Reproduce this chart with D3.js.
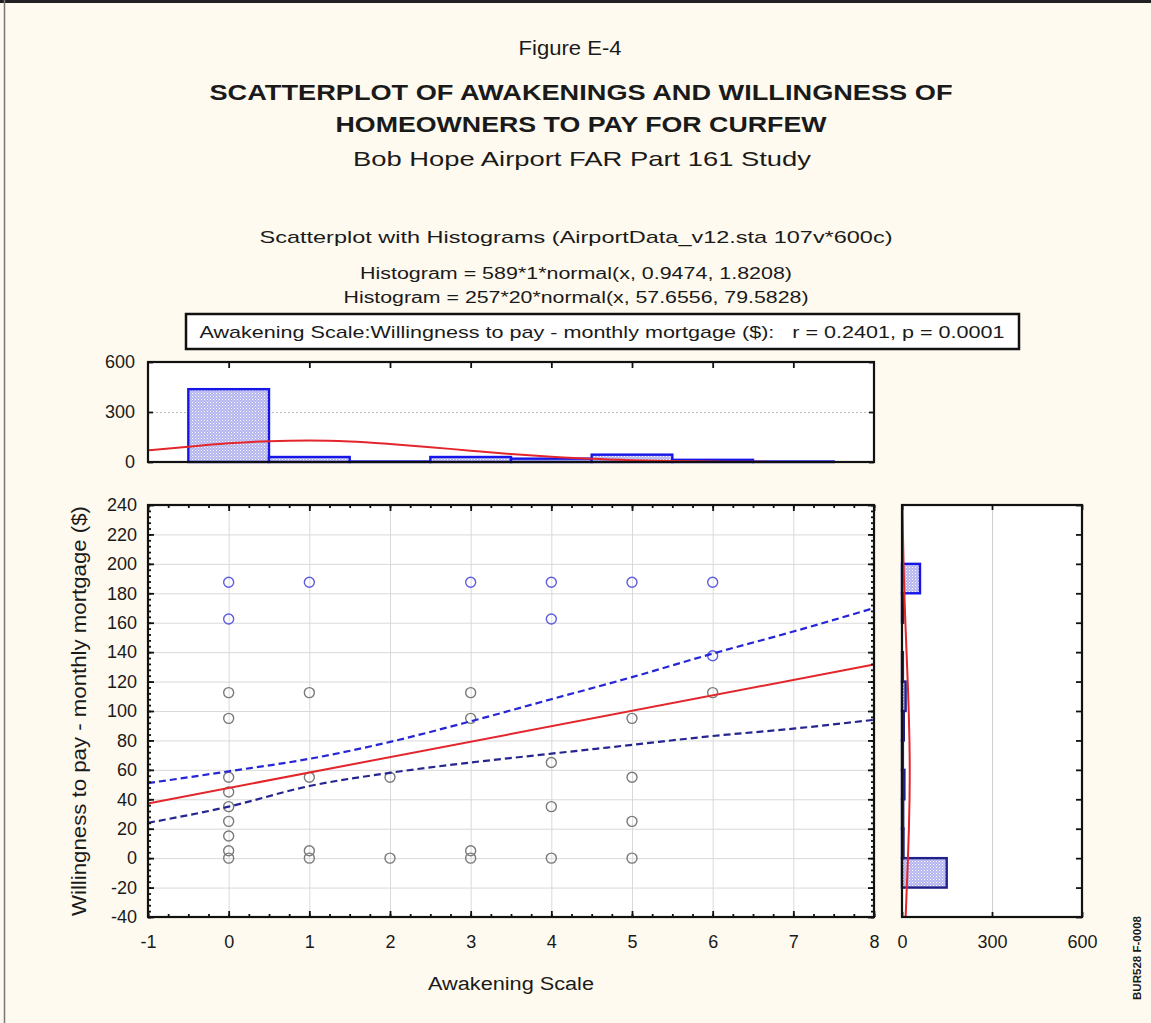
<!DOCTYPE html>
<meta charset="utf-8">
<style>
  body { margin: 0; background: #fffaef; }
  text { font-family: "Liberation Sans", Arial, sans-serif; fill: #1a1a1a; }
</style>
<script src="https://d3js.org/d3.v7.min.js"></script>
<body>
<div id="chart"></div>
<script>

// scatter points: awakening scale vs willingness to pay ($/month)
var pointX = [0, 0, 0, 0, 0, 0, 0, 0, 0, 0, 0,
              1, 1, 1, 1, 1,
              2, 2,
              3, 3, 3, 3, 3,
              4, 4, 4, 4, 4,
              5, 5, 5, 5, 5,
              6, 6, 6];
var pointY = [187.5, 162.5, 112.5, 95, 55, 45, 35, 25, 15, 5, 0,
              187.5, 112.5, 55, 5, 0,
              55, 0,
              187.5, 112.5, 95, 5, 0,
              187.5, 162.5, 65, 35, 0,
              187.5, 95, 55, 25, 0,
              187.5, 137.5, 112.5];

// regression line and 95% band
var fitX = [-1, 8];
var fitY = [37.2, 131.6];
var bandX = [-1, 0, 1, 2, 3, 4, 5, 6, 7, 8];
var bandUpper = [51, 59, 67.5, 79, 93, 108, 123, 139, 154, 170];
var bandLower = [24, 35, 49, 58, 65, 71, 77, 83, 88, 94];

// histogram of awakening scale (bins centred on integers)
var histXCenter = [0, 1, 2, 3, 4, 5, 6, 7];
var histXCount = [437, 30, 3, 30, 20, 44, 13, 3];
// fitted normal curve read at half steps
var curveXAt = [-1, -0.5, 0, 0.5, 1, 1.5, 2, 2.5, 3, 3.5, 4, 4.5, 5, 5.5, 6, 6.5, 7, 7.5, 8];
var curveXVal = [70, 92, 112, 125, 129, 123, 108, 89, 68, 48, 32, 19, 11, 6, 3, 1, 0.5, 0.2, 0];

// histogram of willingness to pay (bins of 20, lower edges)
var histYLow = [-20, 0, 20, 40, 60, 80, 100, 120, 140, 160, 180];
var histYCount = [149, 5, 4, 8, 3, 6, 12, 3, 0, 4, 60];
var curveYAt = [-40, -20, 0, 20, 40, 60, 80, 100, 120, 140, 160, 180, 200, 220, 240];
var curveYVal = [12.1, 16, 19.8, 23, 25.1, 25.8, 24.8, 22.4, 19, 15.1, 11.3, 7.9, 5.2, 3.2, 1.9];

var xTicks = [-1, 0, 1, 2, 3, 4, 5, 6, 7, 8];
var yTicks = [-40, -20, 0, 20, 40, 60, 80, 100, 120, 140, 160, 180, 200, 220, 240];
var countTicks = [0, 300, 600];

var width = 1151,
    height = 1023;

var svg = d3.select("#chart")
  .append("svg")
    .attr("width", width)
    .attr("height", height);

svg.append("rect").attr("width", width).attr("height", height).attr("fill", "#fffaef");
svg.append("rect").attr("x", 0).attr("y", 0).attr("width", width).attr("height", 3).attr("fill", "#222");
svg.append("line").attr("x1", 4.5).attr("x2", 4.5).attr("y1", 0).attr("y2", height)
  .attr("stroke", "#777").attr("stroke-width", 1.5);

var defs = svg.append("defs");
var pat = defs.append("pattern").attr("id", "stip")
  .attr("width", 3).attr("height", 3).attr("patternUnits", "userSpaceOnUse");
pat.append("rect").attr("width", 3).attr("height", 3).attr("fill", "#b4b4ee");
pat.append("rect").attr("width", 1).attr("height", 1).attr("fill", "#ffffff");
pat.append("rect").attr("x", 1.5).attr("y", 1.5).attr("width", 1).attr("height", 1).attr("fill", "#eeeeff");

function label(txt, x, y, size, w, weight) {
  return svg.append("text")
    .attr("x", x).attr("y", y)
    .attr("text-anchor", "middle")
    .style("font-size", size + "px")
    .style("font-weight", weight || "normal")
    .attr("textLength", w)
    .attr("lengthAdjust", "spacingAndGlyphs")
    .text(txt);
}

var plain = function(d) { return String(d); };

// headings
label("Figure E-4", 570, 55, 20, 103);
label("SCATTERPLOT OF AWAKENINGS AND WILLINGNESS OF", 581, 100, 22, 743, "bold");
label("HOMEOWNERS TO PAY FOR CURFEW", 581, 132, 22, 491, "bold");
label("Bob Hope Airport FAR Part 161 Study", 582, 166, 21, 458);
label("Scatterplot with Histograms (AirportData_v12.sta 107v*600c)", 576, 243, 17, 633);
label("Histogram = 589*1*normal(x, 0.9474, 1.8208)", 576, 279, 16, 432);
label("Histogram = 257*20*normal(x, 57.6556, 79.5828)", 576, 303, 16, 465);
svg.append("rect").attr("x", 186).attr("y", 314).attr("width", 833).attr("height", 35)
  .attr("fill", "#fff").attr("stroke", "#111").attr("stroke-width", 2.5);
label("Awakening Scale:Willingness to pay - monthly mortgage ($):\u00a0\u00a0\u00a0r = 0.2401, p = 0.0001", 602, 338, 17, 805);

// ---- main scatter ----
var x = d3.scaleLinear().domain([-1, 8]).range([148, 874]);
var y = d3.scaleLinear().domain([-40, 240]).range([917, 505]);

svg.append("rect").attr("x", 148).attr("y", 505).attr("width", 726).attr("height", 412).attr("fill", "#fff");

var grid = svg.append("g").attr("class", "grid");
grid.append("g").attr("transform", "translate(0,917)")
  .call(d3.axisBottom(x).tickValues(xTicks).tickSize(-412).tickFormat(""));
grid.append("g").attr("transform", "translate(148,0)")
  .call(d3.axisLeft(y).tickValues(yTicks).tickSize(-726).tickFormat(""));
grid.selectAll(".domain").remove();
grid.selectAll("line").attr("stroke", "#d9d9d9");

svg.append("g").selectAll("circle")
  .data(pointX.map(function(d, i) { return { x: d, y: pointY[i] }; }))
  .enter().append("circle")
    .attr("cx", function(d) { return x(d.x); })
    .attr("cy", function(d) { return y(d.y); })
    .attr("r", 5)
    .attr("fill", "none")
    .attr("stroke", function(d) { return d.y > 130 ? "#5d5de0" : "#7a7a7a"; })
    .attr("stroke-width", 1.4);

var line = d3.line().x(function(d) { return x(d[0]); }).y(function(d) { return y(d[1]); });
var lineCurve = d3.line().curve(d3.curveMonotoneX)
  .x(function(d) { return x(d[0]); }).y(function(d) { return y(d[1]); });

svg.append("path")
  .attr("d", lineCurve(bandX.map(function(d, i) { return [d, bandLower[i]]; })))
  .attr("fill", "none").attr("stroke", "#25258f").attr("stroke-width", 2.2).attr("stroke-dasharray", "7,4");
svg.append("path")
  .attr("d", lineCurve(bandX.map(function(d, i) { return [d, bandUpper[i]]; })))
  .attr("fill", "none").attr("stroke", "#2626d6").attr("stroke-width", 2.2).attr("stroke-dasharray", "7,4");
svg.append("path")
  .attr("d", line(fitX.map(function(d, i) { return [d, fitY[i]]; })))
  .attr("fill", "none").attr("stroke", "#e3262b").attr("stroke-width", 2);

function tickStyle(g) {
  g.selectAll(".domain").remove();
  g.selectAll("line").attr("stroke", "#111").attr("stroke-width", 1.8);
  g.selectAll("text").style("font-size", "18px").attr("fill", "#222");
}

var minorX = d3.range(-1, 8.001, 0.25);
var minorY = d3.range(-40, 240.001, 4);

svg.append("g").attr("transform", "translate(0,917)")
  .call(d3.axisBottom(x).tickValues(minorX).tickSize(-3).tickFormat("")).call(tickStyle);
svg.append("g").attr("transform", "translate(0,917)")
  .call(d3.axisBottom(x).tickValues(xTicks).tickSize(-6).tickPadding(18).tickFormat(plain)).call(tickStyle);
svg.append("g").attr("transform", "translate(0,505)")
  .call(d3.axisTop(x).tickValues(minorX).tickSize(-3).tickFormat("")).call(tickStyle);
svg.append("g").attr("transform", "translate(0,505)")
  .call(d3.axisTop(x).tickValues(xTicks).tickSize(-6).tickFormat("")).call(tickStyle);
svg.append("g").attr("transform", "translate(148,0)")
  .call(d3.axisLeft(y).tickValues(minorY).tickSize(-3).tickFormat("")).call(tickStyle);
svg.append("g").attr("transform", "translate(148,0)")
  .call(d3.axisLeft(y).tickValues(yTicks).tickSize(-6).tickPadding(11).tickFormat(plain)).call(tickStyle);
svg.append("g").attr("transform", "translate(874,0)")
  .call(d3.axisRight(y).tickValues(minorY).tickSize(-3).tickFormat("")).call(tickStyle);
svg.append("g").attr("transform", "translate(874,0)")
  .call(d3.axisRight(y).tickValues(yTicks).tickSize(-6).tickFormat("")).call(tickStyle);

svg.append("rect").attr("x", 148).attr("y", 505).attr("width", 726).attr("height", 412)
  .attr("fill", "none").attr("stroke", "#111").attr("stroke-width", 2.2);

label("Awakening Scale", 511, 990, 18, 166);
svg.append("text")
  .attr("transform", "translate(86,711) rotate(-90)")
  .attr("text-anchor", "middle")
  .style("font-size", "20px")
  .attr("textLength", 410)
  .attr("lengthAdjust", "spacingAndGlyphs")
  .text("Willingness to pay - monthly mortgage ($)");

// ---- top histogram ----
var yTop = d3.scaleLinear().domain([0, 600]).range([462, 362]);

svg.append("rect").attr("x", 148).attr("y", 362).attr("width", 726).attr("height", 100).attr("fill", "#fff");
svg.append("g").attr("transform", "translate(148,0)")
  .call(d3.axisLeft(yTop).tickValues([300]).tickSize(-726).tickFormat(""))
  .call(function(g) {
    g.selectAll(".domain").remove();
    g.selectAll("line").attr("stroke", "#bbb").attr("stroke-dasharray", "2,2");
  });

svg.append("g").selectAll("rect")
  .data(histXCenter)
  .enter().append("rect")
    .attr("x", function(d) { return x(d - 0.5); })
    .attr("y", function(d, i) { return yTop(histXCount[i]); })
    .attr("width", function(d) { return x(d + 0.5) - x(d - 0.5); })
    .attr("height", function(d, i) { return yTop(0) - yTop(histXCount[i]); })
    .attr("fill", "url(#stip)")
    .attr("stroke", "#1616e8")
    .attr("stroke-width", 2.4);

var topCurve = d3.line().curve(d3.curveMonotoneX)
  .x(function(d) { return x(d[0]); }).y(function(d) { return yTop(d[1]); });
svg.append("path")
  .attr("d", topCurve(curveXAt.map(function(d, i) { return [d, curveXVal[i]]; })))
  .attr("fill", "none").attr("stroke", "#e3262b").attr("stroke-width", 2);

svg.append("g").attr("transform", "translate(0,362)")
  .call(d3.axisTop(x).tickValues(d3.range(0, 8)).tickSize(-6).tickFormat("")).call(tickStyle);
svg.append("g").attr("transform", "translate(148,0)")
  .call(d3.axisLeft(yTop).tickValues(countTicks).tickSize(-5).tickPadding(13).tickFormat(plain)).call(tickStyle);
svg.append("g").attr("transform", "translate(874,0)")
  .call(d3.axisRight(yTop).tickValues(countTicks).tickSize(-5).tickFormat("")).call(tickStyle);
svg.append("rect").attr("x", 148).attr("y", 362).attr("width", 726).attr("height", 100)
  .attr("fill", "none").attr("stroke", "#111").attr("stroke-width", 2.2);

// ---- right histogram ----
var xRight = d3.scaleLinear().domain([0, 600]).range([902, 1082]);

svg.append("rect").attr("x", 902).attr("y", 505).attr("width", 180).attr("height", 412).attr("fill", "#fff");
svg.append("g").attr("transform", "translate(0,917)")
  .call(d3.axisBottom(xRight).tickValues([300]).tickSize(-412).tickFormat(""))
  .call(function(g) {
    g.selectAll(".domain").remove();
    g.selectAll("line").attr("stroke", "#cfcfcf");
  });

svg.append("g").selectAll("rect")
  .data(histYLow)
  .enter().append("rect")
    .attr("x", xRight(0))
    .attr("y", function(d) { return y(d + 20); })
    .attr("width", function(d, i) { return xRight(histYCount[i]) - xRight(0); })
    .attr("height", function(d) { return y(d) - y(d + 20); })
    .attr("fill", "url(#stip)")
    .attr("stroke", function(d) { return d === 180 ? "#1616e8" : "#20208a"; })
    .attr("stroke-width", 2.4);

var vCurve = d3.line().curve(d3.curveMonotoneY)
  .x(function(d) { return xRight(d[1]); }).y(function(d) { return y(d[0]); });
svg.append("path")
  .attr("d", vCurve(curveYAt.map(function(d, i) { return [d, curveYVal[i]]; })))
  .attr("fill", "none").attr("stroke", "#e3262b").attr("stroke-width", 2);

svg.append("g").attr("transform", "translate(1082,0)")
  .call(d3.axisLeft(y).tickValues(yTicks).tickSize(6).tickFormat("")).call(tickStyle);
svg.append("g").attr("transform", "translate(0,917)")
  .call(d3.axisBottom(xRight).tickValues(countTicks).tickSize(-5).tickPadding(18).tickFormat(plain)).call(tickStyle);
svg.append("g").attr("transform", "translate(0,505)")
  .call(d3.axisTop(xRight).tickValues(countTicks).tickSize(-5).tickFormat("")).call(tickStyle);
svg.append("rect").attr("x", 902).attr("y", 505).attr("width", 180).attr("height", 412)
  .attr("fill", "none").attr("stroke", "#111").attr("stroke-width", 2.2);

// drawing reference code
svg.append("text")
  .attr("transform", "translate(1141,1000) rotate(-90)")
  .attr("text-anchor", "start")
  .style("font-size", "10px")
  .style("font-weight", "bold")
  .attr("fill", "#555")
  .attr("textLength", 84)
  .attr("lengthAdjust", "spacingAndGlyphs")
  .text("BUR528 F-0008");

</script>
</body>
